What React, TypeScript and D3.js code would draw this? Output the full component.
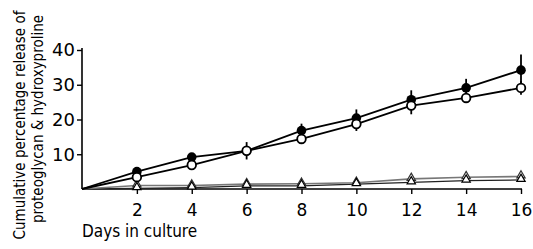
import React, { useEffect, useRef } from 'react';
import * as d3 from 'd3';

const days = [0, 2, 4, 6, 8, 10, 12, 14, 16];
const filledCircle = [0, 5.0, 9.2, 11.0, 16.8, 20.4, 25.7, 29.1, 34.2];
const filledErr = [0, 0.4, 0.4, 0, 2.0, 2.5, 2.7, 2.6, 4.5];
const openCircle = [0, 3.4, 6.9, 11.0, 14.4, 18.7, 24.0, 26.2, 29.1];
const openErr = [0, 0.4, 0.4, 2.5, 0.8, 2.0, 2.5, 0.8, 2.0];
const triUpper = [0, 1.0, 1.0, 1.4, 1.5, 1.8, 2.9, 3.4, 3.6];
const triLower = [0, 0.2, 0.4, 0.9, 0.9, 1.4, 1.9, 2.4, 2.6];
const xTicks = [2, 4, 6, 8, 10, 12, 14, 16];
const yTicks = [10, 20, 30, 40];

const W = 533;
const H = 249;
const font = "'DejaVu Sans', sans-serif";
const condensed = "'DejaVu Sans Condensed', 'DejaVu Sans', sans-serif";

export default function App() {
  const ref = useRef<SVGSVGElement>(null);

  useEffect(() => {
    if (!ref.current) return;
    const svg = d3.select(ref.current);
    svg.selectAll('*').remove();

    const x = d3.scaleLinear().domain([0, 16]).range([82, 521]);
    const y = d3.scaleLinear().domain([0, 40]).range([189, 50]);

    const g = svg.append('g');

    // axes
    const yAxis = g
      .append('g')
      .attr('transform', `translate(${x(0)},0)`)
      .call(d3.axisLeft(y).tickValues(yTicks).tickSize(5).tickPadding(2));
    yAxis.select('.domain').attr('d', `M0,${y(40) - 2}V${y(0)}`).attr('stroke-width', 1.6);
    yAxis.selectAll('.tick line').attr('stroke-width', 1.4);
    yAxis
      .selectAll('.tick text')
      .attr('font-family', font)
      .attr('font-size', 18)
      .attr('fill', '#000');

    const xAxis = g
      .append('g')
      .attr('transform', `translate(0,${y(0)})`)
      .call(d3.axisBottom(x).tickValues(xTicks).tickSize(5).tickPadding(10));
    xAxis.select('.domain').attr('d', `M${x(0)},0H${x(16) + 1}`).attr('stroke-width', 1.6);
    xAxis.selectAll('.tick line').attr('stroke-width', 1.4);
    xAxis
      .selectAll('.tick text')
      .attr('font-family', font)
      .attr('font-size', 17)
      .attr('fill', '#000');

    // labels
    g.append('text')
      .attr('x', x(0))
      .attr('y', 237)
      .attr('font-family', condensed)
      .attr('font-size', 17)
      .text('Days in culture');

    const yl = g
      .append('g')
      .attr('transform', 'rotate(-90)')
      .attr('font-family', condensed)
      .attr('font-size', 15)
      .attr('text-anchor', 'middle');
    yl.append('text')
      .attr('x', -125)
      .attr('y', 25)
      .text('Cumulative percentage release of');
    yl.append('text')
      .attr('x', -119)
      .attr('y', 43)
      .text('proteoglycan & hydroxyproline');

    const line = d3
      .line<number>()
      .x((_, i) => x(days[i]))
      .y((d) => y(d));

    // triangle series
    g.append('path')
      .datum(triLower)
      .attr('d', line)
      .attr('fill', 'none')
      .attr('stroke', '#222')
      .attr('stroke-width', 1.3);
    g.append('path')
      .datum(triUpper)
      .attr('d', line)
      .attr('fill', 'none')
      .attr('stroke', '#777')
      .attr('stroke-width', 1.6);

    const tri = d3.symbol().type(d3.symbolTriangle).size(30);
    [triUpper, triLower].forEach((s, k) => {
      g.append('g')
        .selectAll('path')
        .data(s.slice(1))
        .enter()
        .append('path')
        .attr('d', tri)
        .attr('transform', (d, i) => `translate(${x(days[i + 1])},${y(d) - 1})`)
        .attr('fill', '#fff')
        .attr('stroke', k === 0 ? '#333' : '#000')
        .attr('stroke-width', 1.2);
    });

    // circle series lines
    [openCircle, filledCircle].forEach((s) => {
      g.append('path')
        .datum(s)
        .attr('d', line)
        .attr('fill', 'none')
        .attr('stroke', '#000')
        .attr('stroke-width', 1.8);
    });

    // error bars
    const bars = (s: number[], e: number[]) => {
      g.append('g')
        .selectAll('line')
        .data(s.map((v, i) => ({ v, e: e[i], d: days[i] })).filter((p) => p.e > 0))
        .enter()
        .append('line')
        .attr('x1', (p) => x(p.d))
        .attr('x2', (p) => x(p.d))
        .attr('y1', (p) => y(p.v - p.e))
        .attr('y2', (p) => y(p.v + p.e))
        .attr('stroke', '#000')
        .attr('stroke-width', 1.8);
    };
    bars(filledCircle, filledErr);
    bars(openCircle, openErr);

    // markers: filled first, open on top
    g.append('g')
      .selectAll('circle')
      .data(filledCircle.slice(1))
      .enter()
      .append('circle')
      .attr('cx', (_, i) => x(days[i + 1]))
      .attr('cy', (d) => y(d))
      .attr('r', 4.8)
      .attr('fill', '#000');
    g.append('g')
      .selectAll('circle')
      .data(openCircle.slice(1))
      .enter()
      .append('circle')
      .attr('cx', (_, i) => x(days[i + 1]))
      .attr('cy', (d) => y(d))
      .attr('r', 4.3)
      .attr('fill', '#fff')
      .attr('stroke', '#000')
      .attr('stroke-width', 1.8);
  }, []);

  return (
    <svg
      ref={ref}
      width={W}
      height={H}
      style={{ position: 'absolute', left: 0, top: 0, background: '#fff' }}
    />
  );
}
